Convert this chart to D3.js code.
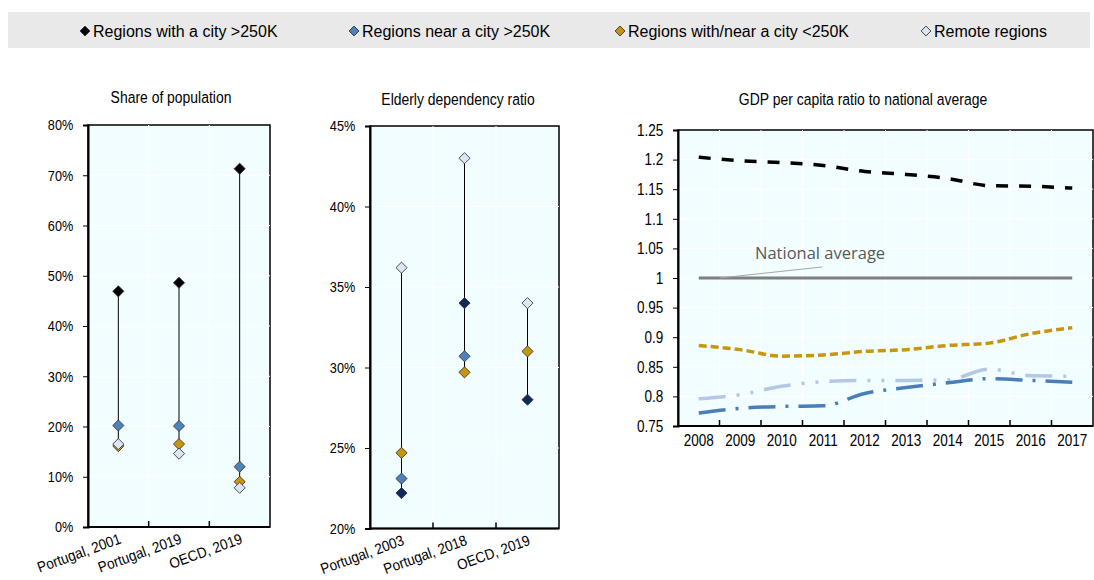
<!DOCTYPE html>
<html>
<head>
<meta charset="utf-8">
<script src="https://cdn.jsdelivr.net/npm/d3@7"></script>
<style>
  body { margin: 0; background: #fff; }
  text { font-family: "Liberation Sans", Arial, sans-serif; fill: #000; }
</style>
</head>
<body>
<script>
// ---- data ----
const seriesNames = ["Regions with a city >250K", "Regions near a city >250K", "Regions with/near a city <250K", "Remote regions"];

const popCategories = ["Portugal, 2001", "Portugal, 2019", "OECD, 2019"];
const popWithCity = [46.9, 48.6, 71.3];
const popNearCity = [20.2, 20.1, 12.0];
const popSmallCity = [16.1, 16.5, 9.0];
const popRemote = [16.5, 14.6, 7.8];
const popTicks = [0, 10, 20, 30, 40, 50, 60, 70, 80];

const oldCategories = ["Portugal, 2003", "Portugal, 2018", "OECD, 2019"];
const oldWithCity = [22.2, 34.0, 28.0];
const oldNearCity = [23.1, 30.7, null];
const oldSmallCity = [24.7, 29.7, 31.0];
const oldRemote = [36.2, 43.0, 34.0];
const oldTicks = [20, 25, 30, 35, 40, 45];

const years = ["2008", "2009", "2010", "2011", "2012", "2013", "2014", "2015", "2016", "2017"];
const gdpWithCity = [1.204, 1.198, 1.195, 1.190, 1.180, 1.175, 1.168, 1.156, 1.155, 1.152];
const gdpNearCity = [0.772, 0.780, 0.783, 0.784, 0.805, 0.815, 0.823, 0.830, 0.827, 0.824];
const gdpSmallCity = [0.886, 0.879, 0.868, 0.870, 0.876, 0.879, 0.886, 0.890, 0.906, 0.916];
const gdpRemote = [0.796, 0.803, 0.817, 0.825, 0.827, 0.827, 0.828, 0.846, 0.835, 0.834];
const gdpNational = [1, 1, 1, 1, 1, 1, 1, 1, 1, 1];
const gdpTicks = [0.75, 0.8, 0.85, 0.9, 0.95, 1, 1.05, 1.1, 1.15, 1.2, 1.25];

const width = 1094;
const height = 580;
const plotBg = "#f1fdfe";
const narrow = 0.82; // squeeze to look like Arial Narrow
const diamondFill = ["#000000", "#4f81bd", "#c8960c", "#dde5f5"];

const svg = d3.select("body").append("svg")
  .attr("width", width)
  .attr("height", height);

// ---- legend ----
svg.append("rect")
  .attr("x", 8).attr("y", 12)
  .attr("width", 1082).attr("height", 36)
  .attr("fill", "#e9e9e9");

const legendX = [85, 354, 620, 926];
const diamond = d3.symbol().type(d3.symbolSquare);

const legend = svg.append("g");
seriesNames.forEach((name, i) => {
  legend.append("path")
    .attr("d", diamond.size(48)())
    .attr("transform", `translate(${legendX[i]},31) rotate(45)`)
    .attr("fill", diamondFill[i])
    .attr("stroke", "#222")
    .attr("stroke-width", 0.8);
  legend.append("text")
    .attr("x", legendX[i] + 8)
    .attr("y", 37)
    .style("font-size", "16px")
    .text(name);
});

// ---- dot panels ----
function dotPanel(opts) {
  const x = d3.scaleBand().domain(opts.categories).range([opts.left, opts.right]);
  const y = d3.scaleLinear().domain(d3.extent(opts.ticks)).range([opts.bottom, opts.top]);
  const g = svg.append("g");

  g.append("rect")
    .attr("x", opts.left).attr("y", opts.top)
    .attr("width", opts.right - opts.left).attr("height", opts.bottom - opts.top)
    .attr("fill", plotBg)
    .attr("stroke", "#000")
    .attr("stroke-width", 1.5);

  // grid
  g.selectAll(".hgrid").data(opts.ticks.slice(1, -1)).join("line")
    .attr("x1", opts.left).attr("x2", opts.right)
    .attr("y1", d => y(d)).attr("y2", d => y(d))
    .attr("stroke", "#fff").attr("stroke-width", 1);
  g.selectAll(".vgrid").data(opts.categories.slice(1)).join("line")
    .attr("x1", d => x(d)).attr("x2", d => x(d))
    .attr("y1", opts.top).attr("y2", opts.bottom)
    .attr("stroke", "#fff").attr("stroke-width", 1);

  // y axis
  const yAxis = g.append("g")
    .attr("transform", `translate(${opts.left},0)`)
    .call(d3.axisLeft(y).tickValues(opts.ticks).tickSize(5).tickPadding(13).tickFormat(d => d + "%"));
  yAxis.select(".domain").attr("stroke-width", 2);
  yAxis.selectAll("text")
    .style("font-size", "15.5px").attr("fill", "#000")
    .attr("transform", `scale(${narrow},1)`);

  // x axis
  g.append("line")
    .attr("x1", opts.left - 1).attr("x2", opts.right)
    .attr("y1", opts.bottom).attr("y2", opts.bottom)
    .attr("stroke", "#000").attr("stroke-width", 2);
  g.selectAll(".xtick").data(opts.categories.slice(1)).join("line")
    .attr("x1", d => x(d)).attr("x2", d => x(d))
    .attr("y1", opts.bottom).attr("y2", opts.bottom - 6)
    .attr("stroke", "#000").attr("stroke-width", 1.5);
  g.selectAll(".xlabel").data(opts.categories).join("text")
    .attr("text-anchor", "end")
    .attr("transform", d => `translate(${x(d) + x.bandwidth() / 2},${opts.bottom + 6}) rotate(-20) scale(0.9,1)`)
    .attr("dy", "0.7em")
    .style("font-size", "15px")
    .text(d => d);

  // stems
  opts.categories.forEach((c, i) => {
    const vals = opts.series.map(s => s[i]).filter(v => v != null);
    g.append("line")
      .attr("x1", x(c) + x.bandwidth() / 2).attr("x2", x(c) + x.bandwidth() / 2)
      .attr("y1", y(d3.min(vals))).attr("y2", y(d3.max(vals)))
      .attr("stroke", "#000").attr("stroke-width", 1);
  });

  // diamonds
  opts.series.forEach((s, k) => {
    g.selectAll(null).data(s.map((v, i) => ({ c: opts.categories[i], v })).filter(d => d.v != null)).join("path")
      .attr("d", diamond.size(62)())
      .attr("transform", d => `translate(${x(d.c) + x.bandwidth() / 2},${y(d.v)}) rotate(45)`)
      .attr("fill", opts.colors[k])
      .attr("stroke", "#333")
      .attr("stroke-width", 0.8);
  });

  g.append("text")
    .attr("transform", `translate(${opts.titleX},${opts.titleY}) scale(${narrow},1)`)
    .attr("text-anchor", "middle")
    .style("font-size", "17px")
    .text(opts.title);
}

dotPanel({
  categories: popCategories,
  series: [popWithCity, popNearCity, popSmallCity, popRemote],
  colors: ["#000000", "#4f81bd", "#c8960c", "#dde5f5"],
  ticks: popTicks,
  left: 88, right: 270, top: 125, bottom: 527,
  title: "Share of population", titleX: 171, titleY: 103
});

dotPanel({
  categories: oldCategories,
  series: [oldWithCity, oldNearCity, oldSmallCity, oldRemote],
  colors: ["#0c2a5e", "#4f81bd", "#c8960c", "#dde5f5"],
  ticks: oldTicks,
  left: 370, right: 559, top: 126, bottom: 528.5,
  title: "Elderly dependency ratio", titleX: 458, titleY: 105
});

// ---- GDP line panel ----
const lp = { left: 678, right: 1093, top: 130, bottom: 426 };
const xYear = d3.scaleBand().domain(years).range([lp.left, lp.right]);
const yGdp = d3.scaleLinear().domain([0.75, 1.25]).range([lp.bottom, lp.top]);
const gl = svg.append("g");

gl.append("rect")
  .attr("x", lp.left).attr("y", lp.top)
  .attr("width", lp.right - lp.left).attr("height", lp.bottom - lp.top)
  .attr("fill", plotBg)
  .attr("stroke", "#000")
  .attr("stroke-width", 1.5);

gl.selectAll(".hgrid").data(gdpTicks.slice(1, -1)).join("line")
  .attr("x1", lp.left).attr("x2", lp.right)
  .attr("y1", d => yGdp(d)).attr("y2", d => yGdp(d))
  .attr("stroke", "#fff");
gl.selectAll(".vgrid").data(years.slice(1)).join("line")
  .attr("x1", d => xYear(d)).attr("x2", d => xYear(d))
  .attr("y1", lp.top).attr("y2", lp.bottom)
  .attr("stroke", "#fff");

const gy = gl.append("g")
  .attr("transform", `translate(${lp.left},0)`)
  .call(d3.axisLeft(yGdp).tickValues(gdpTicks).tickSize(5).tickPadding(13).tickFormat(d => String(+d.toFixed(2))));
gy.select(".domain").attr("stroke-width", 2);
gy.selectAll("text")
  .style("font-size", "16.5px").attr("fill", "#000")
  .attr("transform", `scale(${narrow},1)`);

gl.append("line")
  .attr("x1", lp.left - 1).attr("x2", lp.right)
  .attr("y1", lp.bottom).attr("y2", lp.bottom)
  .attr("stroke", "#000").attr("stroke-width", 2);
gl.selectAll(".xtick").data(years.slice(1)).join("line")
  .attr("x1", d => xYear(d)).attr("x2", d => xYear(d))
  .attr("y1", lp.bottom).attr("y2", lp.bottom - 6)
  .attr("stroke", "#000").attr("stroke-width", 1.5);
gl.selectAll(".xlabel").data(years).join("text")
  .attr("transform", d => `translate(${xYear(d) + xYear.bandwidth() / 2},${lp.bottom + 20}) scale(${narrow},1)`)
  .attr("text-anchor", "middle")
  .style("font-size", "16.5px")
  .text(d => d);

const line = d3.line()
  .x((d, i) => xYear(years[i]) + xYear.bandwidth() / 2)
  .y(d => yGdp(d))
  .curve(d3.curveMonotoneX);

const gdpLines = [
  { values: gdpRemote, color: "#b4c7e7", dash: "27,11,3,11,3,11" },
  { values: gdpNearCity, color: "#4a7ebb", dash: "27,10,3,10" },
  { values: gdpSmallCity, color: "#c8960c", dash: "8,4" },
  { values: gdpWithCity, color: "#000000", dash: "12,11" },
  { values: gdpNational, color: "#7f7f7f", dash: null }
];
gdpLines.forEach(l => {
  gl.append("path")
    .datum(l.values)
    .attr("d", line)
    .attr("fill", "none")
    .attr("stroke", l.color)
    .attr("stroke-width", l.dash ? 3.5 : 3)
    .attr("stroke-dasharray", l.dash);
});

// national average annotation
gl.append("line")
  .attr("x1", xYear("2009")).attr("y1", yGdp(1))
  .attr("x2", 822).attr("y2", 267)
  .attr("stroke", "#a6a6a6").attr("stroke-width", 1);
gl.append("text")
  .attr("x", 755).attr("y", 259)
  .style("font-family", "'Open Sans', 'Noto Sans', sans-serif")
  .style("font-size", "16.5px")
  .style("fill", "#595959")
  .text("National average");

gl.append("text")
  .attr("transform", `translate(863,105) scale(${narrow},1)`)
  .attr("text-anchor", "middle")
  .style("font-size", "17px")
  .text("GDP per capita ratio to national average");
</script>
</body>
</html>
